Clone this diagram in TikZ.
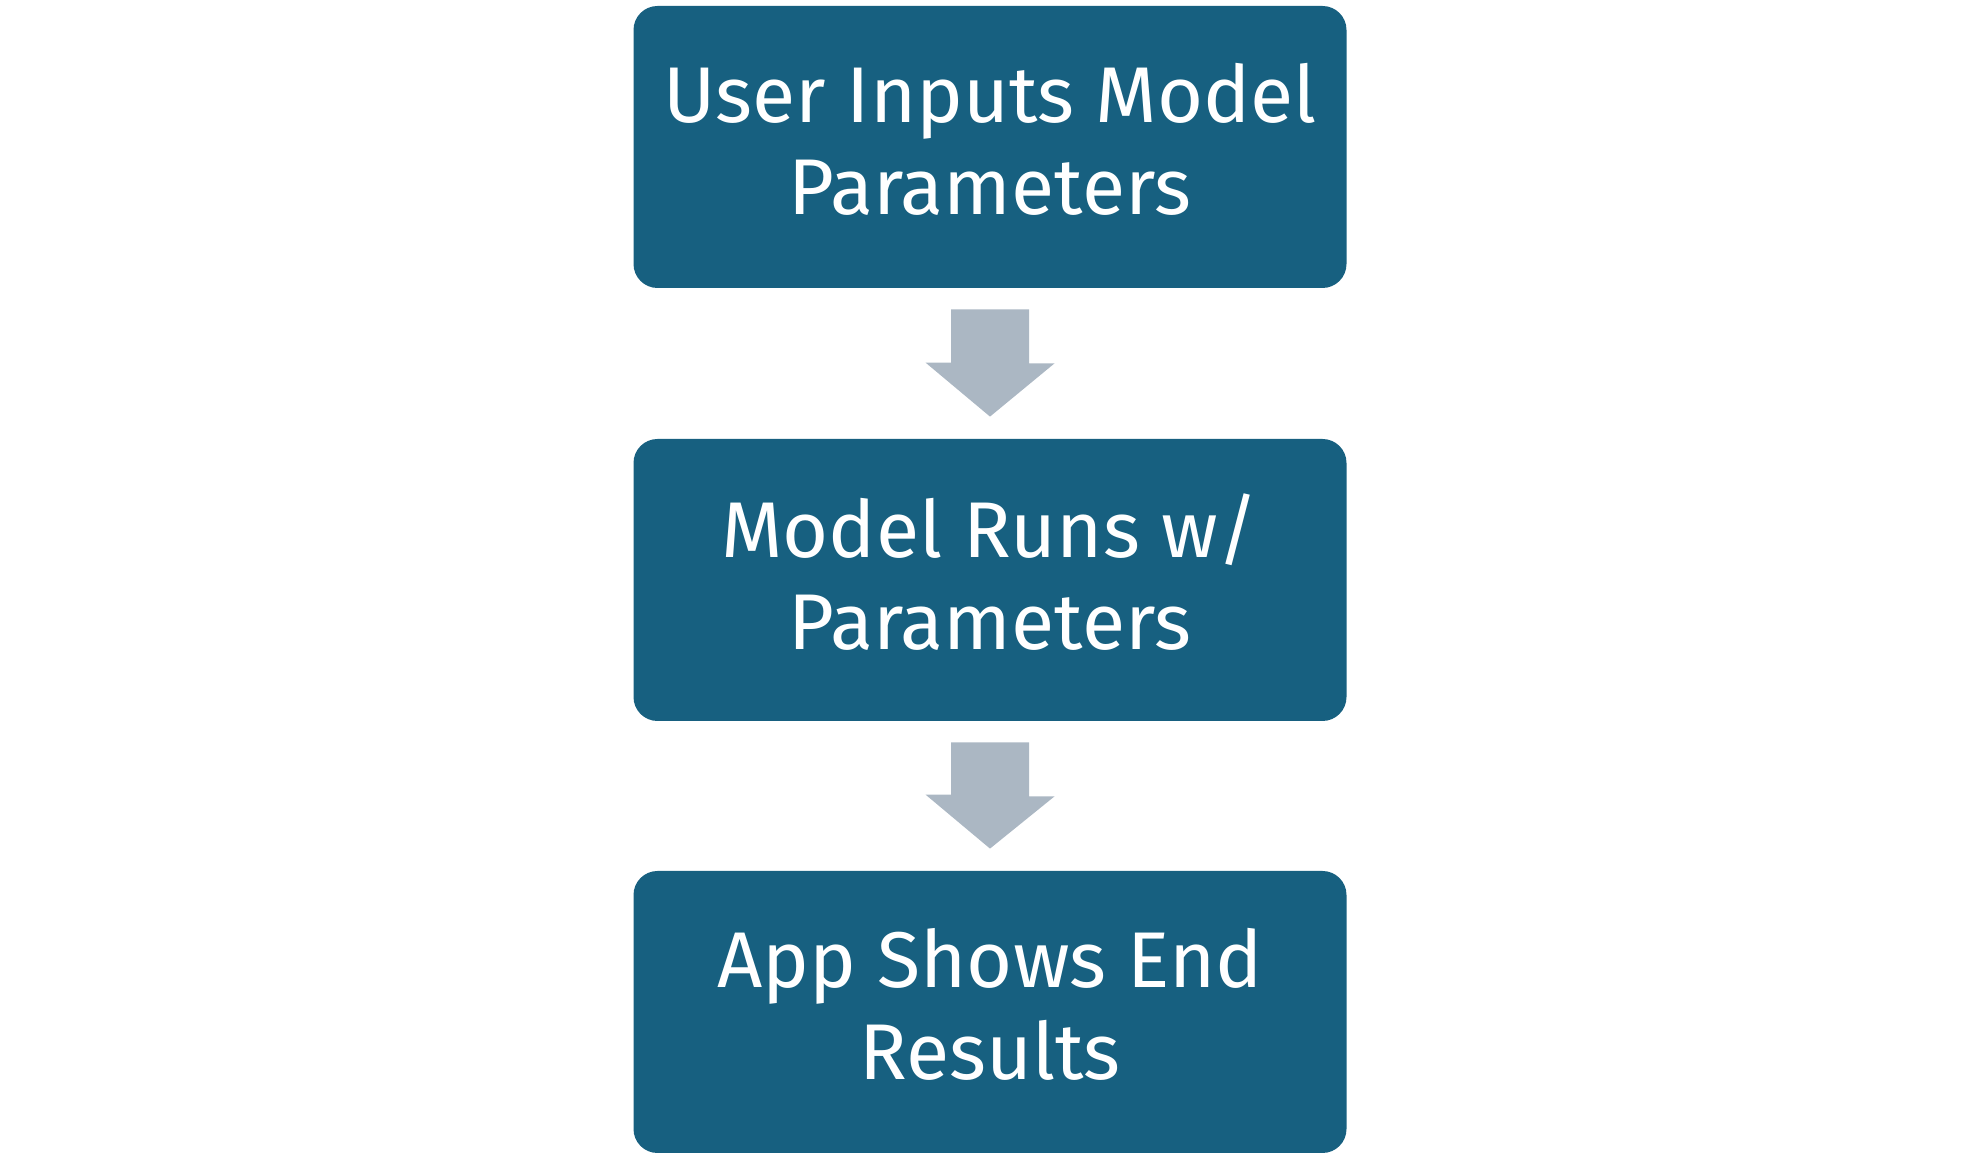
\documentclass[tikz,border=0pt]{standalone}
\usepackage{fontspec}
\setmainfont{Fira Sans}
\usetikzlibrary{calc}

\definecolor{boxblue}{RGB}{23,96,128}
\definecolor{arrowgray}{RGB}{171,183,195}

\tikzset{
  stage/.style={rectangle, rounded corners=12pt, fill=boxblue,
    minimum width=356.5pt, minimum height=141pt},
  stagetext/.style={text=white, align=center, inner sep=0pt,
    font=\fontsize{39.5}{46}\selectfont},
  flow/.style={fill=arrowgray}
}

\begin{document}
\begin{tikzpicture}[x=0.5pt,y=0.5pt]
        \useasboundingbox (0,0) rectangle (1980,1160);

        \node[stage] at (990,1013) (input) {};
        \node[stage] at (990,580) (run) {};
        \node[stage] at (990,148) (results) {};

        \node[stagetext] at ([yshift=4pt]input.center) (input-t) {User Inputs Model\\Parameters};
        \node[stagetext] at ([yshift=4pt]run.center) (run-t) {Model Runs w/\\Parameters};
        \node[stagetext] at ([yshift=4pt]results.center) (results-t) {App Shows End\\Results};

        % block arrows between the stages
        \foreach \a/\b in {input/run, run/results}
            \fill[flow] ($(\a.south)+(-39,-21)$) -- ++(78,0) -- ++(0,-54) -- ++(25.5,0)
                -- ($(\b.north)+(0,22)$) -- ++(-64.5,54) -- ++(25.5,0) -- cycle;
    \end{tikzpicture}
\end{document}
